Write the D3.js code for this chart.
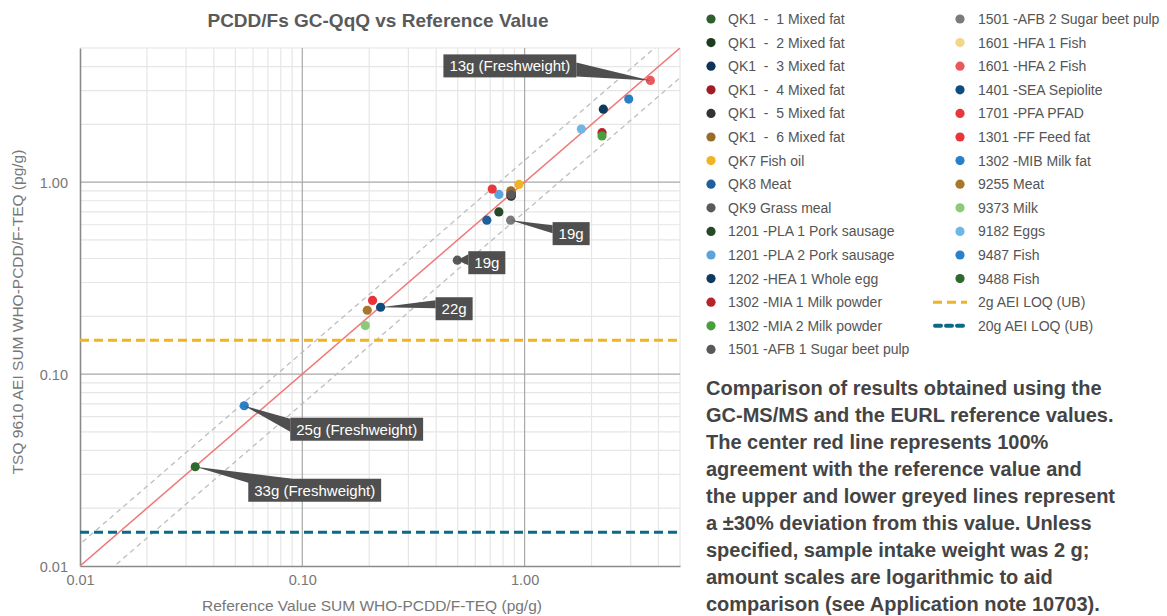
<!DOCTYPE html>
<html>
<head>
<meta charset="utf-8">
<script src="https://cdn.jsdelivr.net/npm/d3@7"></script>
<style>
  html, body { margin: 0; padding: 0; background: #fff; }
  svg { display: block; }
  text { font-family: "Liberation Sans", Arial, sans-serif; }
</style>
</head>
<body>
<svg id="chart" width="1167" height="616"></svg>
<script>
// ---------------- DATA ----------------
const seriesNames = [
  "QK1 - 1 Mixed fat", "QK1 - 2 Mixed fat", "QK1 - 3 Mixed fat", "QK1 - 4 Mixed fat",
  "QK1 - 5 Mixed fat", "QK1 - 6 Mixed fat", "QK7 Fish oil", "QK8 Meat", "QK9 Grass meal",
  "1201 - PLA 1 Pork sausage", "1201 - PLA 2 Pork sausage", "1202 - HEA 1 Whole egg",
  "1302 - MIA 1 Milk powder", "1302 - MIA 2 Milk powder", "1501 - AFB 1 Sugar beet pulp",
  "1501 - AFB 2 Sugar beet pulp", "1601 - HFA 1 Fish", "1601 - HFA 2 Fish",
  "1401 - SEA Sepiolite", "1701 - PFA PFAD", "1301 - FF Feed fat", "1302 - MIB Milk fat",
  "9255 Meat", "9373 Milk", "9182 Eggs", "9487 Fish", "9488 Fish"
];
// Reference value (x) and measured TSQ 9610 value (y), pg/g WHO-TEQ
const referenceValues = [
  0.87, 0.87, 0.87, 0.87, 0.87, 0.867, 0.943, 0.676, 0.87,
  0.766, 0.766, 2.26, 2.23, 2.23, 0.498,
  0.865, null, 3.68, 0.225, 0.715, 0.207, 2.94,
  0.196, 0.192, 1.80, 0.0548, 0.033
];
const measuredValues = [
  0.87, 0.845, 0.86, 0.88, 0.85, 0.901, 0.973, 0.634, 0.86,
  0.700, 0.863, 2.40, 1.81, 1.74, 0.392,
  0.634, null, 3.39, 0.223, 0.920, 0.242, 2.71,
  0.215, 0.179, 1.89, 0.0684, 0.0329
];
const loqNames = ["2g AEI LOQ (UB)", "20g AEI LOQ (UB)"];
const loqValues = [0.15, 0.015];
const axisTickValues = [0.01, 0.1, 1];
const axisDomain = [0.01, 5];
const deviationFactors = [1.3, 0.7];
const annotationSeries = ["1601 - HFA 2 Fish", "1501 - AFB 2 Sugar beet pulp", "1501 - AFB 1 Sugar beet pulp",
                          "1401 - SEA Sepiolite", "9487 Fish", "9488 Fish"];
const annotationTexts = ["13g (Freshweight)", "19g", "19g", "22g", "25g (Freshweight)", "33g (Freshweight)"];
const descriptionLines = [
  "Comparison of results obtained using the",
  "GC-MS/MS and the EURL reference values.",
  "The center red line represents 100%",
  "agreement with the reference value and",
  "the upper and lower greyed lines represent",
  "a \u00b130% deviation from this value. Unless",
  "specified, sample intake weight was 2 g;",
  "amount scales are logarithmic to aid",
  "comparison (see Application note 10703)."
];

// ---------------- STYLE ----------------
const seriesColors = [
  "#2f5f2f", "#1f3b1f", "#0e3457", "#a11d25", "#333333", "#9a6b29", "#f0b323", "#1f5f9a", "#5a5a5a",
  "#254a25", "#5ba3dc", "#0f3a60", "#b8222a", "#4a9e3e", "#595959",
  "#7b7b7b", "#f3d68b", "#e8585c", "#0c4c7e", "#e8383c", "#e8333a", "#2a7fc8",
  "#a8782a", "#8acb7a", "#6cb6e8", "#2b80c8", "#2e6a2e"
];
const loqColors = ["#f0b323", "#0b6a88"];
// layout of the annotation boxes relative to their points (pixels)
const annotationLayout = [
  {dx: -207, dy: -26, base: [["w", 8], ["w", 22]]},
  {dx: 42, dy: 2, base: [[0, 3], [0, 11]]},
  {dx: 11, dy: -9, base: [[0, 3], [0, 14]]},
  {dx: 55, dy: -10, base: [[0, 3], [0, 11]]},
  {dx: 46, dy: 12, base: [[0, 1], [0, 14]]},
  {dx: 53, dy: 12, base: [[0, 4], [44, 0]]}
];

const svg = d3.select("#chart");
const M = {left: 80, right: 680, top: 48, bottom: 566};

const x = d3.scaleLog().domain(axisDomain).range([M.left, M.right]);
const y = d3.scaleLog().domain(axisDomain).range([M.bottom, M.top]);

// title
svg.append("text")
  .attr("x", (M.left + M.right) / 2 - 2).attr("y", 27)
  .attr("text-anchor", "middle")
  .attr("font-size", 19).attr("fill", "#5a5a5a")
  .attr("font-weight", "bold")
  .text("PCDD/Fs GC-QqQ vs Reference Value");

// grid
const minor = [];
[0.01, 0.1, 1].forEach(d => { for (let m = 2; m <= 9; m++) { const v = +(m * d).toPrecision(3); if (v <= axisDomain[1]) minor.push(v); } });
const grid = svg.append("g");
grid.selectAll(".vmin").data(minor).join("line")
  .attr("x1", d => x(d)).attr("x2", d => x(d)).attr("y1", M.top).attr("y2", M.bottom)
  .attr("stroke", "#e6e6e6").attr("stroke-width", 1.2);
grid.selectAll(".hmin").data(minor).join("line")
  .attr("y1", d => y(d)).attr("y2", d => y(d)).attr("x1", M.left).attr("x2", M.right)
  .attr("stroke", "#e6e6e6").attr("stroke-width", 1.2);
grid.selectAll(".vmaj").data(axisTickValues.slice(1)).join("line")
  .attr("x1", d => x(d)).attr("x2", d => x(d)).attr("y1", M.top).attr("y2", M.bottom)
  .attr("stroke", "#a8a8a8").attr("stroke-width", 1.2);
grid.selectAll(".hmaj").data(axisTickValues.slice(1)).join("line")
  .attr("y1", d => y(d)).attr("y2", d => y(d)).attr("x1", M.left).attr("x2", M.right)
  .attr("stroke", "#a8a8a8").attr("stroke-width", 1.2);

// axes
const fmt = d3.format(".2f");
const xAxis = svg.append("g").attr("transform", `translate(0,${M.bottom})`)
  .call(d3.axisBottom(x).tickValues(axisTickValues).tickFormat(fmt).tickSize(0).tickPadding(9));
const yAxis = svg.append("g").attr("transform", `translate(${M.left},0)`)
  .call(d3.axisLeft(y).tickValues(axisTickValues).tickFormat(fmt).tickSize(0).tickPadding(12));
[xAxis, yAxis].forEach(a => {
  a.select(".domain").attr("stroke", "#8a8a8a").attr("stroke-width", 1.6);
  a.selectAll("text").attr("font-size", 14.5).attr("fill", "#777")
    .attr("font-family", "'Liberation Sans', Arial, sans-serif");
});
yAxis.selectAll("text").attr("dy", "0.35em");

svg.append("text").attr("x", 372).attr("y", 611).attr("text-anchor", "middle")
  .attr("font-size", 15.5).attr("fill", "#777")
  .text("Reference Value SUM WHO-PCDD/F-TEQ (pg/g)");
svg.append("text").attr("transform", `translate(23,312) rotate(-90)`)
  .attr("text-anchor", "middle").attr("font-size", 15.5).attr("fill", "#777")
  .text("TSQ 9610 AEI SUM WHO-PCDD/F-TEQ (pg/g)");

// clip
svg.append("clipPath").attr("id", "plotclip").append("rect")
  .attr("x", M.left).attr("y", M.top).attr("width", M.right - M.left).attr("height", M.bottom - M.top);
const plot = svg.append("g").attr("clip-path", "url(#plotclip)");

const lineGen = d3.line().x(d => x(d[0])).y(d => y(d[1]));
const span = [0.001, 20];
deviationFactors.forEach(f => {
  plot.append("path").datum(span.map(v => [v, v * f])).attr("d", lineGen)
    .attr("fill", "none").attr("stroke", "#bdbdbd").attr("stroke-width", 1.3)
    .attr("stroke-dasharray", "5,4");
});
plot.append("path").datum(span.map(v => [v, v])).attr("d", lineGen)
  .attr("fill", "none").attr("stroke", "#f07878").attr("stroke-width", 1.5);

// LOQ lines
loqValues.forEach((v, i) => {
  plot.append("line").attr("x1", M.left).attr("x2", M.right).attr("y1", y(v)).attr("y2", y(v))
    .attr("stroke", loqColors[i]).attr("stroke-width", 3).attr("stroke-dasharray", "9,5");
});

// points
const points = seriesNames.map((n, i) => ({name: n, x: referenceValues[i], y: measuredValues[i], color: seriesColors[i]}))
  .filter(d => d.x != null && d.y != null);
plot.selectAll(".pt").data(points).join("circle")
  .attr("cx", d => x(d.x)).attr("cy", d => y(d.y)).attr("r", 4.6)
  .attr("fill", d => d.color);

// annotations
const ann = svg.append("g");
annotationSeries.forEach((name, i) => {
  const idx = seriesNames.indexOf(name);
  const px = x(referenceValues[idx]), py = y(measuredValues[idx]);
  const L = annotationLayout[i];
  const g = ann.append("g");
  const t = g.append("text").attr("font-size", 15).attr("fill", "#fff").text(annotationTexts[i]);
  const w = t.node().getComputedTextLength() + 12, h = 23;
  const bx = px + L.dx, by = py + L.dy;
  const base = L.base.map(b => [bx + (b[0] === "w" ? w : b[0]), by + b[1]]);
  g.insert("polygon", "text").attr("points", [[px, py], base[0], base[1]].map(p => p.join(",")).join(" "))
    .attr("fill", "#4f4f4f");
  g.insert("rect", "text").attr("x", bx).attr("y", by).attr("width", w).attr("height", h).attr("fill", "#4f4f4f");
  t.attr("x", bx + 6).attr("y", by + h / 2).attr("dy", "0.36em");
});

// legend
const legendItems = seriesNames.map((n, i) => ({name: n, color: seriesColors[i], type: "dot"}))
  .concat(loqNames.map((n, i) => ({name: n, color: loqColors[i], type: "dash" + i})));
const leg = svg.append("g");
legendItems.forEach((d, i) => {
  const col = i < 15 ? 0 : 1;
  const row = col === 0 ? i : i - 15;
  const cx = col === 0 ? 711 : 960;
  const tx = col === 0 ? 728 : 978;
  const cy = 19 + row * 23.6;
  if (d.type === "dot") {
    leg.append("circle").attr("cx", cx).attr("cy", cy).attr("r", 4.6).attr("fill", d.color);
  } else if (d.type === "dash0") {
    leg.append("line").attr("x1", 933).attr("x2", 967).attr("y1", cy).attr("y2", cy)
      .attr("stroke", d.color).attr("stroke-width", 3).attr("stroke-dasharray", "9,5");
  } else {
    leg.append("line").attr("x1", 935).attr("x2", 966).attr("y1", cy).attr("y2", cy)
      .attr("stroke", d.color).attr("stroke-width", 4).attr("stroke-linecap", "round")
      .attr("stroke-dasharray", "6,5");
  }
  leg.append("text").attr("x", tx).attr("y", cy).attr("dy", "0.36em")
    .attr("font-size", 14).attr("fill", "#555")
    .attr("xml:space", "preserve")
    .text(d.name.replace(/(\d{4}) - /, "$1 -").replace("QK1 - ", "QK1  -  "));
});

// description
const desc = svg.append("text").attr("font-size", 20).attr("font-weight", "bold").attr("fill", "#444");
descriptionLines.forEach((l, i) => {
  desc.append("tspan").attr("x", 706).attr("y", 395 + i * 27).text(l);
});
</script>
</body>
</html>
